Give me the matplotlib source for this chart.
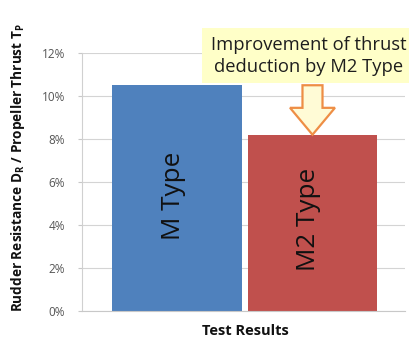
import matplotlib
matplotlib.use("Agg")
import matplotlib.pyplot as plt
from matplotlib.patches import FancyArrow, Rectangle
from matplotlib.ticker import PercentFormatter

types = ["M Type", "M2 Type"]
ratios = [10.5, 8.2]
colors = ["#4F81BD", "#C0504D"]
yticks = [0, 2, 4, 6, 8, 10, 12]

plt.rcParams["font.family"] = ["Open Sans", "DejaVu Sans"]

W, H = 410, 338
fig = plt.figure(figsize=(W / 100, H / 100), dpi=100)
ax = fig.add_axes([82 / W, 1 - 311 / H, 323 / W, 258 / H])

width = 0.401
positions = [-0.206, 0.213]
bars = ax.bar(positions, ratios, width=width, color=colors, zorder=2)

for b, label, yc in zip(bars, types, [5.35, 4.25]):
    ax.text(b.get_x() + b.get_width() / 2 - 0.012, yc, label, rotation=90,
            ha="center", va="center", fontsize=18.8, color="#111111", zorder=3)

ax.set_xlim(-0.5, 0.5)
ax.set_ylim(0, 12)
ax.set_yticks(yticks)
ax.yaxis.set_major_formatter(PercentFormatter(decimals=0))
ax.tick_params(axis="y", labelsize=8.5, colors="#555555", length=3,
               color="#C8C8C8", pad=9)
ax.tick_params(axis="x", bottom=False, labelbottom=False)
ax.grid(axis="y", color="#D4D4D4", linewidth=0.8, zorder=0)
for s in ["top", "right"]:
    ax.spines[s].set_visible(False)
ax.spines["left"].set_color("#D0D0D0")
ax.spines["bottom"].set_color("#C8C8C8")

fig.text(245 / W, 1 - 331 / H, "Test Results", ha="center", va="center",
         fontsize=10.5, fontweight="bold", color="#111111")
fig.text(18 / W, 1 - 168 / H,
         "Rudder Resistance D$_\\mathregular{R}$ / Propeller Thrust T$_\\mathregular{P}$",
         rotation=90, ha="center", va="center", fontsize=9.8,
         fontweight="bold", color="#111111")

# callout box and hollow down arrow
fig.patches.append(Rectangle((202 / W, 1 - 83 / H), (W - 202) / W, 55 / H,
                             transform=fig.transFigure, facecolor="#FFFFC8",
                             edgecolor="none", zorder=1))
fig.text(309 / W, 1 - 56 / H, "Improvement of thrust\ndeduction by M2 Type",
         ha="center", va="center", fontsize=13.2, color="#1E1E1E",
         linespacing=1.35, zorder=2)
arrow = FancyArrow(0.2136, 10.5, 0, -2.3, width=0.062, head_width=0.139,
                   head_length=1.25, length_includes_head=True,
                   facecolor="#FFFBD6", edgecolor="#EE8E45", linewidth=1.6,
                   zorder=4, transform=ax.transData, clip_on=False)
ax.add_patch(arrow)

fig.savefig("out.png", dpi=100)
